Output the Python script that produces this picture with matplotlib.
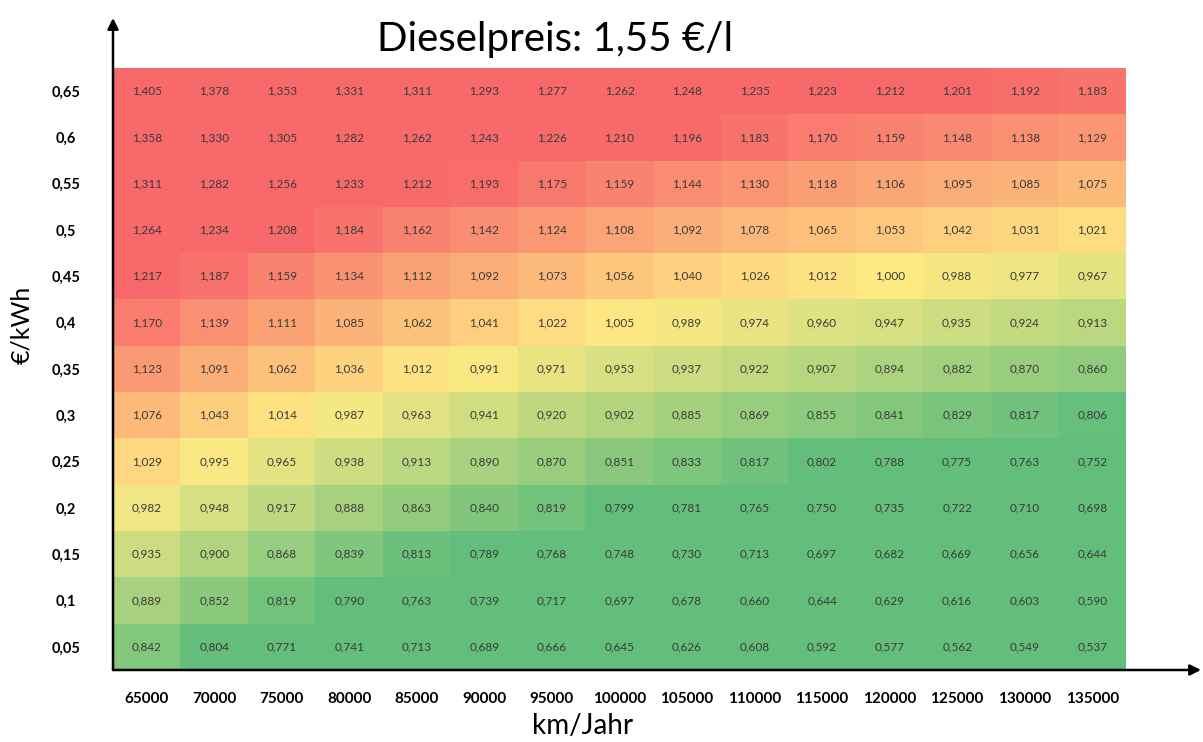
import matplotlib
matplotlib.use("Agg")
import matplotlib.pyplot as plt
from matplotlib.colors import LinearSegmentedColormap
import numpy as np

# Kosten je km (€) bei Dieselpreis 1,55 €/l
km_per_year = [65000, 70000, 75000, 80000, 85000, 90000, 95000, 100000,
               105000, 110000, 115000, 120000, 125000, 130000, 135000]
price_kwh = ["0,65", "0,6", "0,55", "0,5", "0,45", "0,4", "0,35",
             "0,3", "0,25", "0,2", "0,15", "0,1", "0,05"]

row_065 = [1.405, 1.378, 1.353, 1.331, 1.311, 1.293, 1.277, 1.262, 1.248, 1.235, 1.223, 1.212, 1.201, 1.192, 1.183]
row_060 = [1.358, 1.330, 1.305, 1.282, 1.262, 1.243, 1.226, 1.210, 1.196, 1.183, 1.170, 1.159, 1.148, 1.138, 1.129]
row_055 = [1.311, 1.282, 1.256, 1.233, 1.212, 1.193, 1.175, 1.159, 1.144, 1.130, 1.118, 1.106, 1.095, 1.085, 1.075]
row_050 = [1.264, 1.234, 1.208, 1.184, 1.162, 1.142, 1.124, 1.108, 1.092, 1.078, 1.065, 1.053, 1.042, 1.031, 1.021]
row_045 = [1.217, 1.187, 1.159, 1.134, 1.112, 1.092, 1.073, 1.056, 1.040, 1.026, 1.012, 1.000, 0.988, 0.977, 0.967]
row_040 = [1.170, 1.139, 1.111, 1.085, 1.062, 1.041, 1.022, 1.005, 0.989, 0.974, 0.960, 0.947, 0.935, 0.924, 0.913]
row_035 = [1.123, 1.091, 1.062, 1.036, 1.012, 0.991, 0.971, 0.953, 0.937, 0.922, 0.907, 0.894, 0.882, 0.870, 0.860]
row_030 = [1.076, 1.043, 1.014, 0.987, 0.963, 0.941, 0.920, 0.902, 0.885, 0.869, 0.855, 0.841, 0.829, 0.817, 0.806]
row_025 = [1.029, 0.995, 0.965, 0.938, 0.913, 0.890, 0.870, 0.851, 0.833, 0.817, 0.802, 0.788, 0.775, 0.763, 0.752]
row_020 = [0.982, 0.948, 0.917, 0.888, 0.863, 0.840, 0.819, 0.799, 0.781, 0.765, 0.750, 0.735, 0.722, 0.710, 0.698]
row_015 = [0.935, 0.900, 0.868, 0.839, 0.813, 0.789, 0.768, 0.748, 0.730, 0.713, 0.697, 0.682, 0.669, 0.656, 0.644]
row_010 = [0.889, 0.852, 0.819, 0.790, 0.763, 0.739, 0.717, 0.697, 0.678, 0.660, 0.644, 0.629, 0.616, 0.603, 0.590]
row_005 = [0.842, 0.804, 0.771, 0.741, 0.713, 0.689, 0.666, 0.645, 0.626, 0.608, 0.592, 0.577, 0.562, 0.549, 0.537]

values = np.array([row_065, row_060, row_055, row_050, row_045, row_040, row_035,
                   row_030, row_025, row_020, row_015, row_010, row_005])

plt.rcParams['font.family'] = ['Lato', 'DejaVu Sans']

# green - yellow - red scale, clipped at 0,8 and 1,2
cmap = LinearSegmentedColormap.from_list(
    "gyr", ["#63BE7B", "#FFEB84", "#F8696B"])

fig = plt.figure(figsize=(12.03, 7.42), dpi=100)
ax = fig.add_axes([113 / 1203, 1 - 670 / 742, 1013 / 1203, 602 / 742])

ax.imshow(values, cmap=cmap, vmin=0.8, vmax=1.2, aspect="auto",
          interpolation="nearest")

for i in range(values.shape[0]):
    for j in range(values.shape[1]):
        ax.text(j, i, f"{values[i, j]:.3f}".replace(".", ","),
                ha="center", va="center", fontsize=8.5, color="#3a3a3a")

ax.set_xticks(range(len(km_per_year)))
ax.set_xticklabels([str(k) for k in km_per_year], fontsize=11, fontweight="bold")
ax.set_yticks(range(len(price_kwh)))
ax.set_yticklabels(price_kwh, fontsize=10.5, fontweight="bold")
ax.tick_params(length=0)
ax.tick_params(axis="x", pad=16)
ax.tick_params(axis="y", pad=34)
for lbl in ax.get_yticklabels():
    lbl.set_horizontalalignment("center")

for s in ax.spines.values():
    s.set_visible(False)

# axis arrows
arrow = dict(arrowstyle="-|>", lw=1.8, color="black", mutation_scale=16,
             shrinkA=0, shrinkB=0)
ax.annotate("", xy=(0, 1 + 50 / 602), xytext=(0, 0),
            xycoords="axes fraction", arrowprops=arrow, annotation_clip=False)
ax.annotate("", xy=(1 + 75 / 1013, 0), xytext=(0, 0),
            xycoords="axes fraction", arrowprops=arrow, annotation_clip=False)

fig.text(555 / 1203, 1 - 39 / 742, "Dieselpreis: 1,55 €/l", fontsize=29,
         ha="center", va="center")
fig.text(22 / 1203, 1 - 325 / 742, "€/kWh", fontsize=18, rotation=90,
         ha="center", va="center")
fig.text(583 / 1203, 1 - 726 / 742, "km/Jahr", fontsize=20,
         ha="center", va="center")

fig.savefig("out.png", dpi=100)
